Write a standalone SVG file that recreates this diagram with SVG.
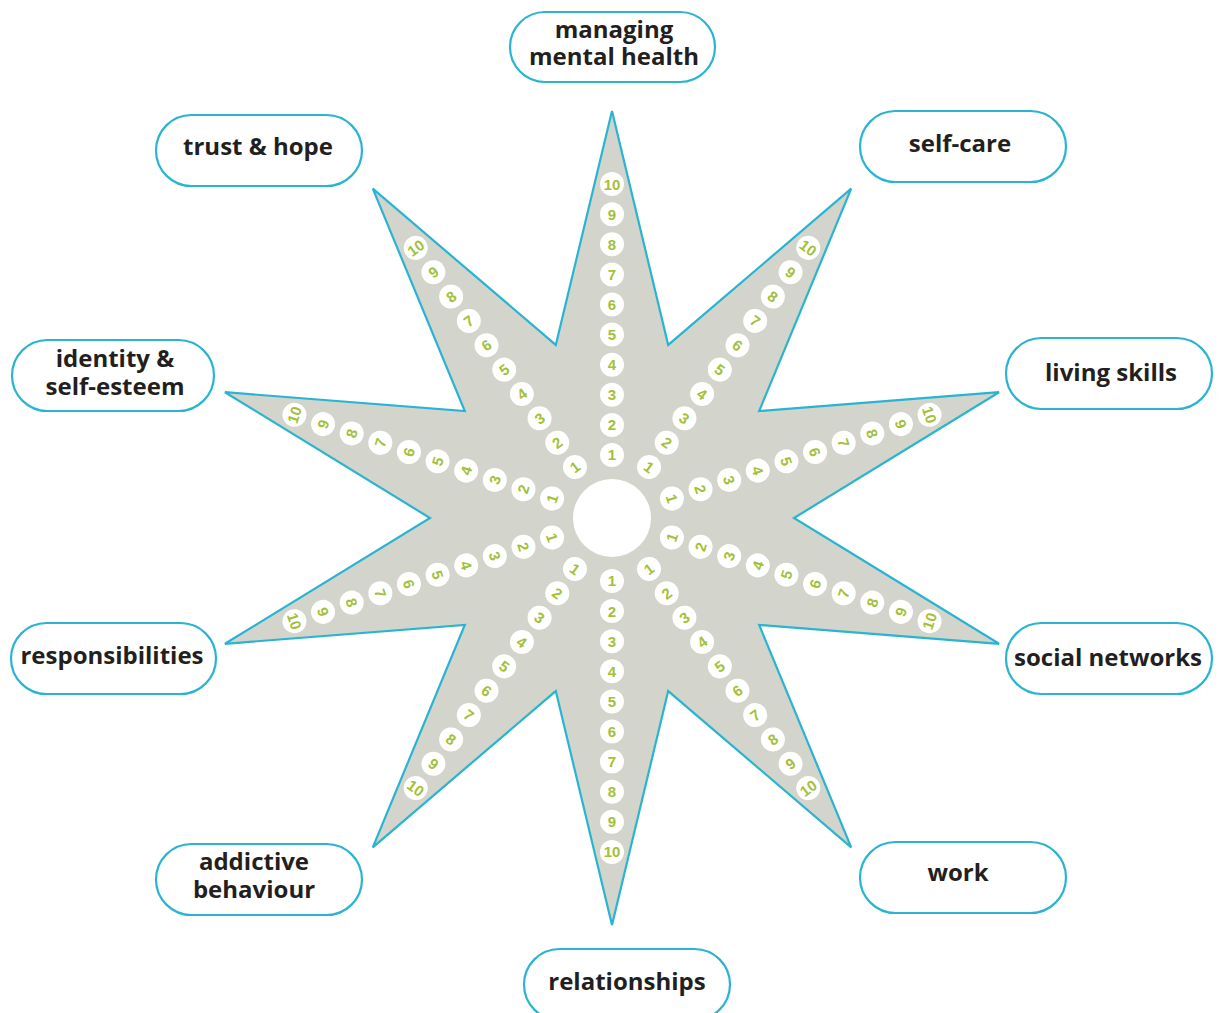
<svg xmlns="http://www.w3.org/2000/svg" width="1222" height="1013" viewBox="0 0 1222 1013">
<style>
.star{fill:#d3d4cb;stroke:#29b4d2;stroke-width:2.2;stroke-linejoin:miter}
.hub{fill:#ffffff}
.n{fill:#ffffff}
.t{fill:#a3c03a;font-family:"Liberation Sans",Arial,sans-serif;font-weight:bold;font-size:15px;text-anchor:middle}
.box{fill:#ffffff;stroke:#29b4d2;stroke-width:2.2}
.lbl{fill:#231f20;font-family:"Open Sans","Noto Sans",sans-serif;font-weight:700;font-size:24px;text-anchor:middle}
</style>
<rect width="1222" height="1013" fill="#ffffff"/>
<g id="star">
<polygon class="star" points="612,111 668.2,344.9 851.2,188.7 759.2,411 999.1,392.2 794,518 999.1,643.8 759.2,625 851.2,847.3 668.2,691.1 612,925 555.8,691.1 372.8,847.3 464.8,625 224.9,643.8 430,518 224.9,392.2 464.8,411 372.8,188.7 555.8,344.9"/>
<circle class="hub" cx="612" cy="518" r="39"/>
</g>
<g id="connectors"></g>
<g id="ray-0" transform="translate(612 518) rotate(0)">
<g transform="translate(0 -63)"><circle class="n" r="12"/><text class="t" y="5.4">1</text></g>
<g transform="translate(0 -93.1)"><circle class="n" r="12"/><text class="t" y="5.4">2</text></g>
<g transform="translate(0 -123.2)"><circle class="n" r="12"/><text class="t" y="5.4">3</text></g>
<g transform="translate(0 -153.3)"><circle class="n" r="12"/><text class="t" y="5.4">4</text></g>
<g transform="translate(0 -183.4)"><circle class="n" r="12"/><text class="t" y="5.4">5</text></g>
<g transform="translate(0 -213.5)"><circle class="n" r="12"/><text class="t" y="5.4">6</text></g>
<g transform="translate(0 -243.6)"><circle class="n" r="12"/><text class="t" y="5.4">7</text></g>
<g transform="translate(0 -273.7)"><circle class="n" r="12"/><text class="t" y="5.4">8</text></g>
<g transform="translate(0 -303.8)"><circle class="n" r="12"/><text class="t" y="5.4">9</text></g>
<g transform="translate(0 -333.9)"><circle class="n" r="12"/><text class="t" y="5.4">10</text></g>
</g>
<g id="ray-36" transform="translate(612 518) rotate(36)">
<g transform="translate(0 -63)"><circle class="n" r="12"/><text class="t" y="5.4">1</text></g>
<g transform="translate(0 -93.1)"><circle class="n" r="12"/><text class="t" y="5.4">2</text></g>
<g transform="translate(0 -123.2)"><circle class="n" r="12"/><text class="t" y="5.4">3</text></g>
<g transform="translate(0 -153.3)"><circle class="n" r="12"/><text class="t" y="5.4">4</text></g>
<g transform="translate(0 -183.4)"><circle class="n" r="12"/><text class="t" y="5.4">5</text></g>
<g transform="translate(0 -213.5)"><circle class="n" r="12"/><text class="t" y="5.4">6</text></g>
<g transform="translate(0 -243.6)"><circle class="n" r="12"/><text class="t" y="5.4">7</text></g>
<g transform="translate(0 -273.7)"><circle class="n" r="12"/><text class="t" y="5.4">8</text></g>
<g transform="translate(0 -303.8)"><circle class="n" r="12"/><text class="t" y="5.4">9</text></g>
<g transform="translate(0 -333.9)"><circle class="n" r="12"/><text class="t" y="5.4">10</text></g>
</g>
<g id="ray-72" transform="translate(612 518) rotate(72)">
<g transform="translate(0 -63)"><circle class="n" r="12"/><text class="t" y="5.4">1</text></g>
<g transform="translate(0 -93.1)"><circle class="n" r="12"/><text class="t" y="5.4">2</text></g>
<g transform="translate(0 -123.2)"><circle class="n" r="12"/><text class="t" y="5.4">3</text></g>
<g transform="translate(0 -153.3)"><circle class="n" r="12"/><text class="t" y="5.4">4</text></g>
<g transform="translate(0 -183.4)"><circle class="n" r="12"/><text class="t" y="5.4">5</text></g>
<g transform="translate(0 -213.5)"><circle class="n" r="12"/><text class="t" y="5.4">6</text></g>
<g transform="translate(0 -243.6)"><circle class="n" r="12"/><text class="t" y="5.4">7</text></g>
<g transform="translate(0 -273.7)"><circle class="n" r="12"/><text class="t" y="5.4">8</text></g>
<g transform="translate(0 -303.8)"><circle class="n" r="12"/><text class="t" y="5.4">9</text></g>
<g transform="translate(0 -333.9)"><circle class="n" r="12"/><text class="t" y="5.4">10</text></g>
</g>
<g id="ray-108" transform="translate(612 518) rotate(108)">
<g transform="translate(0 -63) rotate(180)"><circle class="n" r="12"/><text class="t" y="5.4">1</text></g>
<g transform="translate(0 -93.1) rotate(180)"><circle class="n" r="12"/><text class="t" y="5.4">2</text></g>
<g transform="translate(0 -123.2) rotate(180)"><circle class="n" r="12"/><text class="t" y="5.4">3</text></g>
<g transform="translate(0 -153.3) rotate(180)"><circle class="n" r="12"/><text class="t" y="5.4">4</text></g>
<g transform="translate(0 -183.4) rotate(180)"><circle class="n" r="12"/><text class="t" y="5.4">5</text></g>
<g transform="translate(0 -213.5) rotate(180)"><circle class="n" r="12"/><text class="t" y="5.4">6</text></g>
<g transform="translate(0 -243.6) rotate(180)"><circle class="n" r="12"/><text class="t" y="5.4">7</text></g>
<g transform="translate(0 -273.7) rotate(180)"><circle class="n" r="12"/><text class="t" y="5.4">8</text></g>
<g transform="translate(0 -303.8) rotate(180)"><circle class="n" r="12"/><text class="t" y="5.4">9</text></g>
<g transform="translate(0 -333.9) rotate(180)"><circle class="n" r="12"/><text class="t" y="5.4">10</text></g>
</g>
<g id="ray-144" transform="translate(612 518) rotate(144)">
<g transform="translate(0 -63) rotate(180)"><circle class="n" r="12"/><text class="t" y="5.4">1</text></g>
<g transform="translate(0 -93.1) rotate(180)"><circle class="n" r="12"/><text class="t" y="5.4">2</text></g>
<g transform="translate(0 -123.2) rotate(180)"><circle class="n" r="12"/><text class="t" y="5.4">3</text></g>
<g transform="translate(0 -153.3) rotate(180)"><circle class="n" r="12"/><text class="t" y="5.4">4</text></g>
<g transform="translate(0 -183.4) rotate(180)"><circle class="n" r="12"/><text class="t" y="5.4">5</text></g>
<g transform="translate(0 -213.5) rotate(180)"><circle class="n" r="12"/><text class="t" y="5.4">6</text></g>
<g transform="translate(0 -243.6) rotate(180)"><circle class="n" r="12"/><text class="t" y="5.4">7</text></g>
<g transform="translate(0 -273.7) rotate(180)"><circle class="n" r="12"/><text class="t" y="5.4">8</text></g>
<g transform="translate(0 -303.8) rotate(180)"><circle class="n" r="12"/><text class="t" y="5.4">9</text></g>
<g transform="translate(0 -333.9) rotate(180)"><circle class="n" r="12"/><text class="t" y="5.4">10</text></g>
</g>
<g id="ray-180" transform="translate(612 518) rotate(180)">
<g transform="translate(0 -63) rotate(180)"><circle class="n" r="12"/><text class="t" y="5.4">1</text></g>
<g transform="translate(0 -93.1) rotate(180)"><circle class="n" r="12"/><text class="t" y="5.4">2</text></g>
<g transform="translate(0 -123.2) rotate(180)"><circle class="n" r="12"/><text class="t" y="5.4">3</text></g>
<g transform="translate(0 -153.3) rotate(180)"><circle class="n" r="12"/><text class="t" y="5.4">4</text></g>
<g transform="translate(0 -183.4) rotate(180)"><circle class="n" r="12"/><text class="t" y="5.4">5</text></g>
<g transform="translate(0 -213.5) rotate(180)"><circle class="n" r="12"/><text class="t" y="5.4">6</text></g>
<g transform="translate(0 -243.6) rotate(180)"><circle class="n" r="12"/><text class="t" y="5.4">7</text></g>
<g transform="translate(0 -273.7) rotate(180)"><circle class="n" r="12"/><text class="t" y="5.4">8</text></g>
<g transform="translate(0 -303.8) rotate(180)"><circle class="n" r="12"/><text class="t" y="5.4">9</text></g>
<g transform="translate(0 -333.9) rotate(180)"><circle class="n" r="12"/><text class="t" y="5.4">10</text></g>
</g>
<g id="ray-216" transform="translate(612 518) rotate(216)">
<g transform="translate(0 -63) rotate(180)"><circle class="n" r="12"/><text class="t" y="5.4">1</text></g>
<g transform="translate(0 -93.1) rotate(180)"><circle class="n" r="12"/><text class="t" y="5.4">2</text></g>
<g transform="translate(0 -123.2) rotate(180)"><circle class="n" r="12"/><text class="t" y="5.4">3</text></g>
<g transform="translate(0 -153.3) rotate(180)"><circle class="n" r="12"/><text class="t" y="5.4">4</text></g>
<g transform="translate(0 -183.4) rotate(180)"><circle class="n" r="12"/><text class="t" y="5.4">5</text></g>
<g transform="translate(0 -213.5) rotate(180)"><circle class="n" r="12"/><text class="t" y="5.4">6</text></g>
<g transform="translate(0 -243.6) rotate(180)"><circle class="n" r="12"/><text class="t" y="5.4">7</text></g>
<g transform="translate(0 -273.7) rotate(180)"><circle class="n" r="12"/><text class="t" y="5.4">8</text></g>
<g transform="translate(0 -303.8) rotate(180)"><circle class="n" r="12"/><text class="t" y="5.4">9</text></g>
<g transform="translate(0 -333.9) rotate(180)"><circle class="n" r="12"/><text class="t" y="5.4">10</text></g>
</g>
<g id="ray-252" transform="translate(612 518) rotate(252)">
<g transform="translate(0 -63) rotate(180)"><circle class="n" r="12"/><text class="t" y="5.4">1</text></g>
<g transform="translate(0 -93.1) rotate(180)"><circle class="n" r="12"/><text class="t" y="5.4">2</text></g>
<g transform="translate(0 -123.2) rotate(180)"><circle class="n" r="12"/><text class="t" y="5.4">3</text></g>
<g transform="translate(0 -153.3) rotate(180)"><circle class="n" r="12"/><text class="t" y="5.4">4</text></g>
<g transform="translate(0 -183.4) rotate(180)"><circle class="n" r="12"/><text class="t" y="5.4">5</text></g>
<g transform="translate(0 -213.5) rotate(180)"><circle class="n" r="12"/><text class="t" y="5.4">6</text></g>
<g transform="translate(0 -243.6) rotate(180)"><circle class="n" r="12"/><text class="t" y="5.4">7</text></g>
<g transform="translate(0 -273.7) rotate(180)"><circle class="n" r="12"/><text class="t" y="5.4">8</text></g>
<g transform="translate(0 -303.8) rotate(180)"><circle class="n" r="12"/><text class="t" y="5.4">9</text></g>
<g transform="translate(0 -333.9) rotate(180)"><circle class="n" r="12"/><text class="t" y="5.4">10</text></g>
</g>
<g id="ray-288" transform="translate(612 518) rotate(288)">
<g transform="translate(0 -63)"><circle class="n" r="12"/><text class="t" y="5.4">1</text></g>
<g transform="translate(0 -93.1)"><circle class="n" r="12"/><text class="t" y="5.4">2</text></g>
<g transform="translate(0 -123.2)"><circle class="n" r="12"/><text class="t" y="5.4">3</text></g>
<g transform="translate(0 -153.3)"><circle class="n" r="12"/><text class="t" y="5.4">4</text></g>
<g transform="translate(0 -183.4)"><circle class="n" r="12"/><text class="t" y="5.4">5</text></g>
<g transform="translate(0 -213.5)"><circle class="n" r="12"/><text class="t" y="5.4">6</text></g>
<g transform="translate(0 -243.6)"><circle class="n" r="12"/><text class="t" y="5.4">7</text></g>
<g transform="translate(0 -273.7)"><circle class="n" r="12"/><text class="t" y="5.4">8</text></g>
<g transform="translate(0 -303.8)"><circle class="n" r="12"/><text class="t" y="5.4">9</text></g>
<g transform="translate(0 -333.9)"><circle class="n" r="12"/><text class="t" y="5.4">10</text></g>
</g>
<g id="ray-324" transform="translate(612 518) rotate(324)">
<g transform="translate(0 -63)"><circle class="n" r="12"/><text class="t" y="5.4">1</text></g>
<g transform="translate(0 -93.1)"><circle class="n" r="12"/><text class="t" y="5.4">2</text></g>
<g transform="translate(0 -123.2)"><circle class="n" r="12"/><text class="t" y="5.4">3</text></g>
<g transform="translate(0 -153.3)"><circle class="n" r="12"/><text class="t" y="5.4">4</text></g>
<g transform="translate(0 -183.4)"><circle class="n" r="12"/><text class="t" y="5.4">5</text></g>
<g transform="translate(0 -213.5)"><circle class="n" r="12"/><text class="t" y="5.4">6</text></g>
<g transform="translate(0 -243.6)"><circle class="n" r="12"/><text class="t" y="5.4">7</text></g>
<g transform="translate(0 -273.7)"><circle class="n" r="12"/><text class="t" y="5.4">8</text></g>
<g transform="translate(0 -303.8)"><circle class="n" r="12"/><text class="t" y="5.4">9</text></g>
<g transform="translate(0 -333.9)"><circle class="n" r="12"/><text class="t" y="5.4">10</text></g>
</g>
<g id="node-managing-mental-health">
<rect class="box" x="510" y="12" width="205" height="70" rx="35"/>
<text class="lbl" x="614" y="38">managing</text>
<text class="lbl" x="614" y="65">mental health</text>
</g>
<g id="node-self-care">
<rect class="box" x="860" y="111" width="206" height="71" rx="35.5"/>
<text class="lbl" x="960" y="152">self-care</text>
</g>
<g id="node-living-skills">
<rect class="box" x="1006" y="338" width="206" height="71" rx="35.5"/>
<text class="lbl" x="1111" y="381">living skills</text>
</g>
<g id="node-social-networks">
<rect class="box" x="1006" y="623" width="206" height="71" rx="35.5"/>
<text class="lbl" x="1108" y="666">social networks</text>
</g>
<g id="node-work">
<rect class="box" x="860" y="842" width="206" height="71" rx="35.5"/>
<text class="lbl" x="958" y="881">work</text>
</g>
<g id="node-relationships">
<rect class="box" x="524" y="949" width="206" height="71" rx="35.5"/>
<text class="lbl" x="627" y="990">relationships</text>
</g>
<g id="node-addictive-behaviour">
<rect class="box" x="156" y="844" width="206" height="71" rx="35.5"/>
<text class="lbl" x="254" y="870">addictive</text>
<text class="lbl" x="254" y="898">behaviour</text>
</g>
<g id="node-responsibilities">
<rect class="box" x="11" y="623" width="205" height="71" rx="35.5"/>
<text class="lbl" x="112" y="664">responsibilities</text>
</g>
<g id="node-identity-self-esteem">
<rect class="box" x="12" y="340" width="202" height="71" rx="35.5"/>
<text class="lbl" x="115" y="367">identity &amp;</text>
<text class="lbl" x="115" y="395">self-esteem</text>
</g>
<g id="node-trust-hope">
<rect class="box" x="156" y="115" width="206" height="71" rx="35.5"/>
<text class="lbl" x="258" y="155">trust &amp; hope</text>
</g>
</svg>
